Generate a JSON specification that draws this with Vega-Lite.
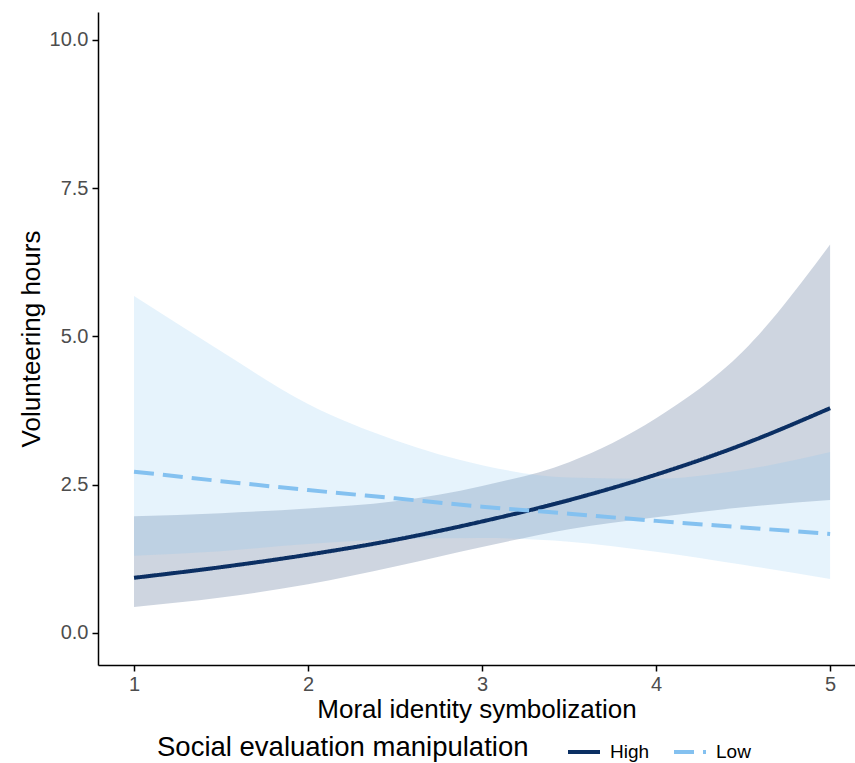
{
  "$schema": "https://vega.github.io/schema/vega-lite/v6.json",
  "width": 757,
  "height": 653,
  "autosize": {"type": "none"},
  "padding": {"left": 98, "top": 12, "right": 0, "bottom": 98},
  "background": "white",
  "data": {
    "values": [
      {"x": 1.0, "group": "High", "fit": 0.93, "lo": 0.44, "hi": 1.97},
      {"x": 1.5, "group": "High", "fit": 1.11, "lo": 0.60, "hi": 2.02},
      {"x": 2.0, "group": "High", "fit": 1.32, "lo": 0.82, "hi": 2.10},
      {"x": 2.5, "group": "High", "fit": 1.57, "lo": 1.12, "hi": 2.22},
      {"x": 3.0, "group": "High", "fit": 1.88, "lo": 1.45, "hi": 2.48},
      {"x": 3.5, "group": "High", "fit": 2.24, "lo": 1.75, "hi": 2.88},
      {"x": 4.0, "group": "High", "fit": 2.67, "lo": 1.95, "hi": 3.62},
      {"x": 4.5, "group": "High", "fit": 3.18, "lo": 2.12, "hi": 4.75},
      {"x": 5.0, "group": "High", "fit": 3.79, "lo": 2.24, "hi": 6.55},
      {"x": 1.0, "group": "Low", "fit": 2.72, "lo": 1.30, "hi": 5.68},
      {"x": 1.5, "group": "Low", "fit": 2.56, "lo": 1.38, "hi": 4.75},
      {"x": 2.0, "group": "Low", "fit": 2.41, "lo": 1.50, "hi": 3.86},
      {"x": 2.5, "group": "Low", "fit": 2.27, "lo": 1.58, "hi": 3.25},
      {"x": 3.0, "group": "Low", "fit": 2.13, "lo": 1.60, "hi": 2.83},
      {"x": 3.5, "group": "Low", "fit": 2.01, "lo": 1.54, "hi": 2.62},
      {"x": 4.0, "group": "Low", "fit": 1.89, "lo": 1.37, "hi": 2.60},
      {"x": 4.5, "group": "Low", "fit": 1.78, "lo": 1.15, "hi": 2.75},
      {"x": 5.0, "group": "Low", "fit": 1.67, "lo": 0.91, "hi": 3.05}
    ]
  },
  "encoding": {
    "x": {
      "field": "x",
      "type": "quantitative",
      "scale": {"domain": [0.793, 5.143], "nice": false, "zero": false},
      "axis": {"values": [1, 2, 3, 4, 5], "title": "Moral identity symbolization", "titlePadding": 2, "labelPadding": 3}
    }
  },
  "layer": [
    {
      "mark": {"type": "area", "interpolate": "monotone", "fillOpacity": 0.2},
      "encoding": {
        "y": {"field": "lo", "type": "quantitative"},
        "y2": {"field": "hi"},
        "fill": {
          "field": "group",
          "type": "nominal",
          "scale": {"domain": ["High", "Low"], "range": ["#0b2f63", "#84c1f0"]},
          "legend": {"title": "Social evaluation manipulation"}
        }
      }
    },
    {
      "mark": {"type": "line", "interpolate": "monotone", "strokeWidth": 4},
      "encoding": {
        "y": {
          "field": "fit",
          "type": "quantitative",
          "scale": {"domain": [-0.54, 10.47], "nice": false, "zero": false},
          "axis": {"values": [0, 2.5, 5, 7.5, 10], "format": ".1f", "title": "Volunteering hours", "titlePadding": 5, "labelPadding": 4}
        },
        "color": {
          "field": "group",
          "type": "nominal",
          "scale": {"domain": ["High", "Low"], "range": ["#0b2f63", "#84c1f0"]},
          "legend": {"title": "Social evaluation manipulation"}
        },
        "strokeDash": {
          "field": "group",
          "type": "nominal",
          "scale": {"domain": ["High", "Low"], "range": [[1, 0], [20, 9]]},
          "legend": {"title": "Social evaluation manipulation"}
        }
      }
    }
  ],
  "config": {
    "view": {"stroke": null},
    "font": "Liberation Sans",
    "axis": {
      "grid": false,
      "domainColor": "black",
      "domainWidth": 1.5,
      "tickColor": "black",
      "tickWidth": 1.5,
      "tickSize": 6,
      "labelColor": "#4d4d4d",
      "labelFontSize": 20,
      "labelFont": "Liberation Sans",
      "titleFont": "Liberation Sans",
      "titleFontSize": 26,
      "titleFontWeight": "normal",
      "titleColor": "black"
    },
    "legend": {
      "orient": "none",
      "direction": "horizontal",
      "legendX": 59,
      "legendY": 722,
      "titleOrient": "left",
      "titleAnchor": "middle",
      "titleFont": "Liberation Sans",
      "titleFontWeight": "normal",
      "titleFontSize": 27.5,
      "titleColor": "black",
      "titlePadding": 37,
      "titleLimit": 600,
      "titleBaseline": "middle",
      "labelFont": "Liberation Sans",
      "labelFontSize": 19,
      "labelColor": "black",
      "symbolType": "stroke",
      "symbolSize": 1024,
      "symbolStrokeWidth": 4,
      "symbolOpacity": 1,
      "columnPadding": 16,
      "labelOffset": 8
    }
  }
}
